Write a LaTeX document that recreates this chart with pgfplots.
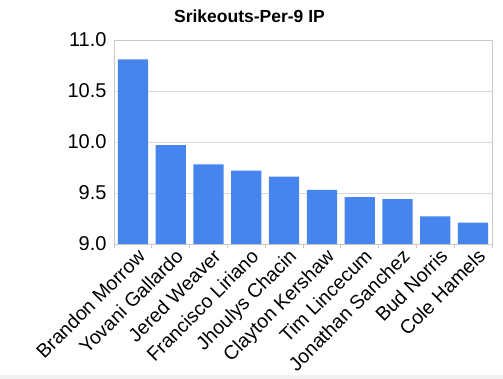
\documentclass[border=0pt]{standalone}
\usepackage{pgfplots}
\pgfplotsset{compat=1.18}
\usepackage{fontspec}
\setmainfont{Liberation Sans}
\definecolor{barblue}{HTML}{4684EE}
\definecolor{gridc}{HTML}{DADADA}
\definecolor{axc}{HTML}{C8C8C8}
\begin{document}
\begin{tikzpicture}[x=1pt,y=1pt]
\path[use as bounding box] (0,0) rectangle (503,379);
\fill[gray!12] (0,0) rectangle (503,4);
\node[font=\bfseries\fontsize{17.5}{20}\selectfont] at (249.5,362.5) {Srikeouts-Per-9 IP};
\begin{axis}[
  at={(114pt,135pt)}, anchor=south west,
  width=378pt, height=204pt, scale only axis,
  xmin=-0.5, xmax=9.5, ymin=9, ymax=11,
  ytick={9,9.5,10,10.5,11},
  yticklabel style={/pgf/number format/fixed, /pgf/number format/fixed zerofill, /pgf/number format/precision=1, /pgf/number format/assume math mode=true, font=\fontsize{20}{22}\selectfont, xshift=-4pt},
  ymajorgrids, grid style={gridc, line width=0.8pt},
  axis line style={axc, line width=0.8pt},
  major tick length=0pt,
  xtick={0,...,9},
  xticklabels={Brandon Morrow,Yovani Gallardo,Jered Weaver,Francisco Liriano,Jhoulys Chacin,Clayton Kershaw,Tim Lincecum,Jonathan Sanchez,Bud Norris,Cole Hamels},
  xticklabel style={rotate=45, anchor=north east, font=\fontsize{19.5}{21}\selectfont, inner sep=1pt, xshift=1pt, yshift=-4pt},
  extra x ticks={-0.5,0.5,...,9.5},
  extra x tick labels={},
  extra x tick style={major tick length=4pt, tick align=outside, tick pos=lower, tick style={axc, line width=0.8pt}, xmajorgrids=false},
  ytick style={draw=none},
]
\addplot[ybar, bar width=0.8, fill=barblue, draw=none] coordinates {
(0,10.81) (1,9.97) (2,9.78) (3,9.72) (4,9.66) (5,9.53) (6,9.46) (7,9.44) (8,9.27) (9,9.21)
};
\end{axis}
\end{tikzpicture}
\end{document}
